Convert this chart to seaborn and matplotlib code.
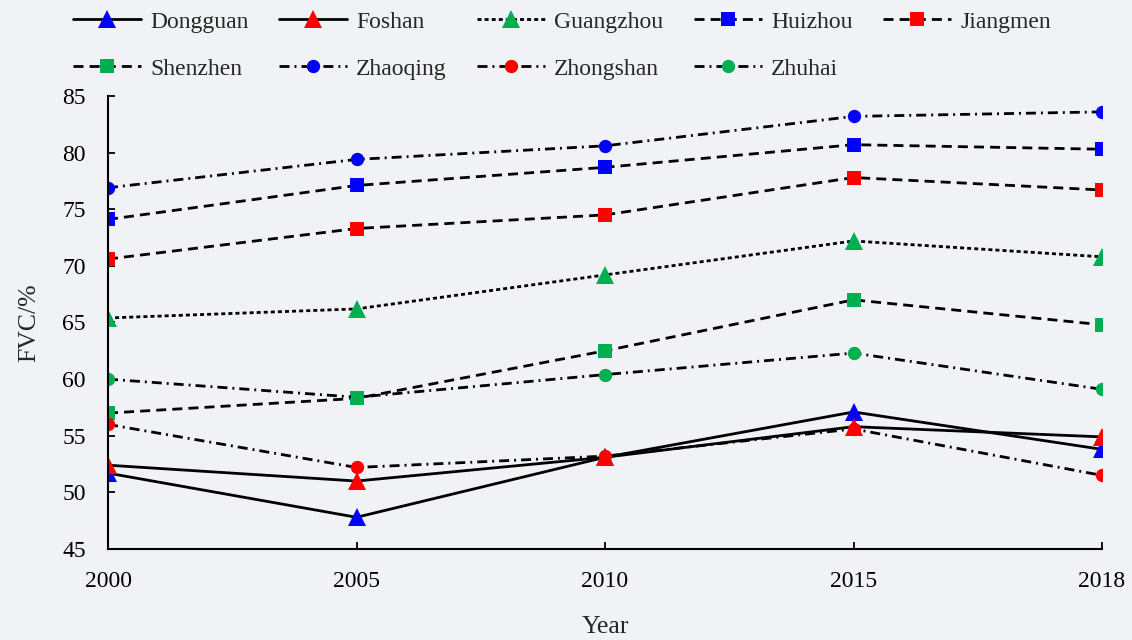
import matplotlib
matplotlib.use("Agg")
import matplotlib.pyplot as plt
import seaborn as sns
import pandas as pd

# FVC (%) by city and year
years = ["2000", "2005", "2010", "2015", "2018"]
dongguan = [51.7, 47.8, 53.1, 57.1, 53.8]
foshan = [52.4, 51.0, 53.1, 55.8, 54.9]
guangzhou = [65.4, 66.2, 69.2, 72.2, 70.8]
huizhou = [74.1, 77.1, 78.7, 80.7, 80.3]
jiangmen = [70.6, 73.3, 74.5, 77.8, 76.7]
shenzhen = [57.0, 58.3, 62.5, 67.0, 64.8]
zhaoqing = [76.9, 79.4, 80.6, 83.2, 83.6]
zhongshan = [56.0, 52.2, 53.2, 55.6, 51.5]
zhuhai = [60.0, 58.4, 60.4, 62.3, 59.1]

cities = ["Dongguan", "Foshan", "Guangzhou", "Huizhou", "Jiangmen",
          "Shenzhen", "Zhaoqing", "Zhongshan", "Zhuhai"]
values = [dongguan, foshan, guangzhou, huizhou, jiangmen,
          shenzhen, zhaoqing, zhongshan, zhuhai]

BLUE, RED, GREEN = "#0000ff", "#ff0000", "#00b050"
solid = ""
short_dash = (1.45, 1.1)
long_dash = (3.6, 2.2)
dash_dot = (3.6, 1.8, 0.7, 1.8)
styles = {
    "Dongguan": ("^", BLUE, solid),
    "Foshan": ("^", RED, solid),
    "Guangzhou": ("^", GREEN, short_dash),
    "Huizhou": ("s", BLUE, long_dash),
    "Jiangmen": ("s", RED, long_dash),
    "Shenzhen": ("s", GREEN, long_dash),
    "Zhaoqing": ("o", BLUE, dash_dot),
    "Zhongshan": ("o", RED, dash_dot),
    "Zhuhai": ("o", GREEN, dash_dot),
}
msize = {"^": 13, "s": 10, "o": 9.6}

df = pd.DataFrame(
    [(c, y, v) for c, vals in zip(cities, values) for y, v in zip(years, vals)],
    columns=["city", "year", "fvc"],
)

bg = "#f1f2f6"
sns.set_style("ticks")
plt.rcParams["font.family"] = ["Liberation Serif", "DejaVu Serif"]
plt.rcParams["font.size"] = 17

fig = plt.figure(figsize=(11.32, 6.4), dpi=100, facecolor=bg)
ax = fig.add_axes([108 / 1132, 1 - 549 / 640, (1102 - 108) / 1132, (549 - 96) / 640])
ax.set_facecolor(bg)

handles = {}
for city in cities:
    marker, color, dash = styles[city]
    sub = df[df["city"] == city]
    sns.lineplot(
        x="year", y="fvc", data=sub, ax=ax, color="black", linewidth=2.0,
        marker=marker, markersize=msize[marker], markerfacecolor=color,
        markeredgecolor=color, markeredgewidth=0, label=city, errorbar=None,
    )
    ln = ax.lines[-1]
    if dash:
        ln.set_dashes(dash)
    else:
        ln.set_linestyle("-")
    handles[city] = ln

ax.set_xlim(0, len(years) - 1)
ax.set_ylim(45, 85)
ax.set_yticks(range(45, 86, 5))
sns.despine(ax=ax)
for s in ("left", "bottom"):
    ax.spines[s].set_linewidth(1.5)
    ax.spines[s].set_color("black")
ax.tick_params(axis="both", direction="in", length=5, width=1.3, colors="black",
               labelsize=17)
ax.tick_params(axis="x", pad=16)
ax.tick_params(axis="y", pad=16)
ax.set_xlabel("Year", fontsize=18.5, labelpad=17)
ax.set_ylabel("FVC/%", fontsize=18.5, labelpad=16)

# legend laid out row by row: five entries on the first row, four on the second
ncol = 5
order = []
for c in range(ncol):
    for r in range(2):
        i = r * ncol + c
        if i < len(cities):
            order.append(cities[i])
ax.legend(
    [handles[c] for c in order], order,
    loc="upper left", bbox_to_anchor=(73 / 1132, 1 - 11 / 640),
    bbox_transform=fig.transFigure, ncol=ncol, frameon=False, fontsize=17,
    handlelength=2.88, handletextpad=0.38, columnspacing=1.3, labelspacing=1.08,
    borderpad=0, borderaxespad=0, numpoints=1,
)

fig.savefig("out.png", dpi=100, facecolor=bg)
